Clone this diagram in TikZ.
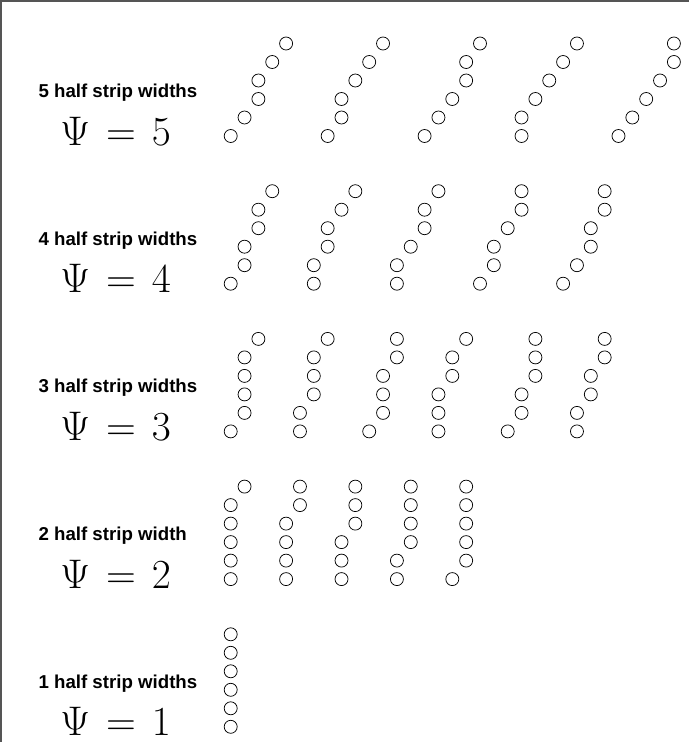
\documentclass[tikz,border=0pt]{standalone}
\usepackage{fix-cm}
\usepackage{fontspec}
\newfontfamily\labelfont{Liberation Sans}
\usepackage{xcolor}
\definecolor{frameink}{HTML}{555555}

\begin{document}
\begin{tikzpicture}[
  x=0.75pt,
  y=-0.75pt,
  striplabel/.style={anchor=base west, inner sep=0pt, font=\labelfont\bfseries\fontsize{14}{16}\selectfont},
  psilabel/.style={anchor=base west, inner sep=0pt, font=\fontsize{31}{36}\selectfont},
  bead/.style={draw=black, line width=0.55pt}
]
  \useasboundingbox (0,0) rectangle (689,742);
  \draw[frameink, line width=0.8pt] (1,742) -- (1,1) -- (689,1);

  % one strand: bottom row y, first column, column of each row (bottom up)
  \def\strand#1#2#3{%
    \foreach \c [count=\r from 0] in {#3}
      \path[bead] (230.7+13.85*#2+13.85*\c, #1-18.5*\r) circle (6.5);}

  % Psi = 5
  \node[striplabel] (lab5) at (38.3,97.3) {5 half strip widths};
  \node[psilabel] (psi5) at (60,145) {$\Psi \mskip2mu = \mskip2mu 5$};
  \strand{136}{0}{0,1,2,2,3,4}
  \strand{136}{7}{0,1,1,2,3,4}
  \strand{136}{14}{0,1,2,3,3,4}
  \strand{136}{21}{0,0,1,2,3,4}
  \strand{136}{28}{0,1,2,3,4,4}

  % Psi = 4
  \node[striplabel] (lab4) at (38.3,245) {4 half strip widths};
  \node[psilabel] (psi4) at (60,292.7) {$\Psi \mskip2mu = \mskip2mu 4$};
  \strand{283.7}{0}{0,1,1,2,2,3}
  \strand{283.7}{6}{0,0,1,1,2,3}
  \strand{283.7}{12}{0,0,1,2,2,3}
  \strand{283.7}{18}{0,1,1,2,3,3}
  \strand{283.7}{24}{0,1,2,2,3,3}

  % Psi = 3
  \node[striplabel] (lab3) at (38.3,392.7) {3 half strip widths};
  \node[psilabel] (psi3) at (60,440.4) {$\Psi \mskip2mu = \mskip2mu 3$};
  \strand{431.4}{0}{0,1,1,1,1,2}
  \strand{431.4}{5}{0,0,1,1,1,2}
  \strand{431.4}{10}{0,1,1,1,2,2}
  \strand{431.4}{15}{0,0,0,1,1,2}
  \strand{431.4}{20}{0,1,1,2,2,2}
  \strand{431.4}{25}{0,0,1,1,2,2}

  % Psi = 2
  \node[striplabel] (lab2) at (38.3,540.4) {2 half strip width};
  \node[psilabel] (psi2) at (60,588.1) {$\Psi \mskip2mu = \mskip2mu 2$};
  \strand{579.1}{0}{0,0,0,0,0,1}
  \strand{579.1}{4}{0,0,0,0,1,1}
  \strand{579.1}{8}{0,0,0,1,1,1}
  \strand{579.1}{12}{0,0,1,1,1,1}
  \strand{579.1}{16}{0,1,1,1,1,1}

  % Psi = 1
  \node[striplabel] (lab1) at (38.3,688.1) {1 half strip widths};
  \node[psilabel] (psi1) at (60,735.8) {$\Psi \mskip2mu = \mskip2mu 1$};
  \strand{726.8}{0}{0,0,0,0,0,0}
\end{tikzpicture}
\end{document}
